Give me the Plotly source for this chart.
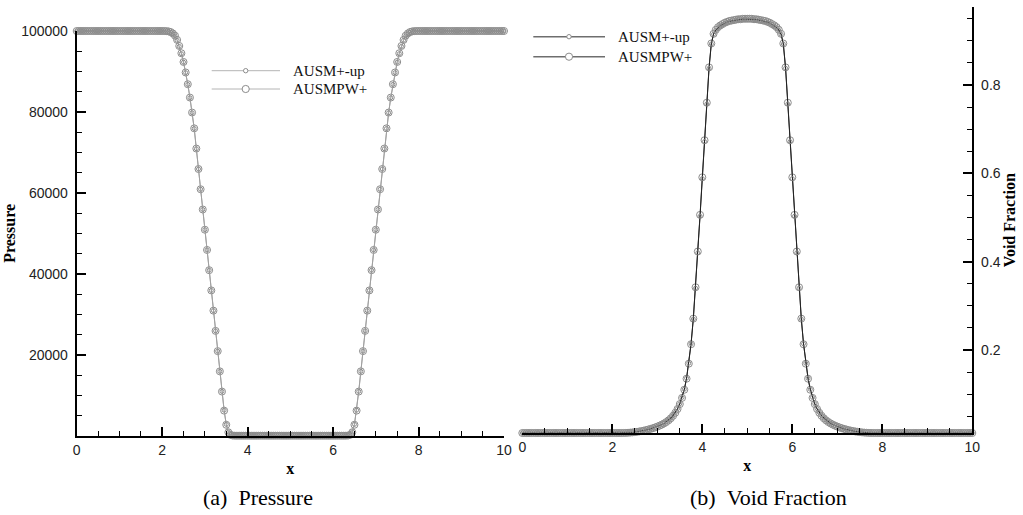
import plotly.graph_objects as go

W, H = 1023, 515

# Cell-centre coordinate along the tube (dx = 0.05)
x = [
    0.0, 0.05, 0.1, 0.15, 0.2, 0.25, 0.3, 0.35, 0.4, 0.45,
    0.5, 0.55, 0.6, 0.65, 0.7, 0.75, 0.8, 0.85, 0.9, 0.95,
    1.0, 1.05, 1.1, 1.15, 1.2, 1.25, 1.3, 1.35, 1.4, 1.45,
    1.5, 1.55, 1.6, 1.65, 1.7, 1.75, 1.8, 1.85, 1.9, 1.95,
    2.0, 2.05, 2.1, 2.15, 2.2, 2.25, 2.3, 2.35, 2.4, 2.45,
    2.5, 2.55, 2.6, 2.65, 2.7, 2.75, 2.8, 2.85, 2.9, 2.95,
    3.0, 3.05, 3.1, 3.15, 3.2, 3.25, 3.3, 3.35, 3.4, 3.45,
    3.5, 3.55, 3.6, 3.65, 3.7, 3.75, 3.8, 3.85, 3.9, 3.95,
    4.0, 4.05, 4.1, 4.15, 4.2, 4.25, 4.3, 4.35, 4.4, 4.45,
    4.5, 4.55, 4.6, 4.65, 4.7, 4.75, 4.8, 4.85, 4.9, 4.95,
    5.0, 5.05, 5.1, 5.15, 5.2, 5.25, 5.3, 5.35, 5.4, 5.45,
    5.5, 5.55, 5.6, 5.65, 5.7, 5.75, 5.8, 5.85, 5.9, 5.95,
    6.0, 6.05, 6.1, 6.15, 6.2, 6.25, 6.3, 6.35, 6.4, 6.45,
    6.5, 6.55, 6.6, 6.65, 6.7, 6.75, 6.8, 6.85, 6.9, 6.95,
    7.0, 7.05, 7.1, 7.15, 7.2, 7.25, 7.3, 7.35, 7.4, 7.45,
    7.5, 7.55, 7.6, 7.65, 7.7, 7.75, 7.8, 7.85, 7.9, 7.95,
    8.0, 8.05, 8.1, 8.15, 8.2, 8.25, 8.3, 8.35, 8.4, 8.45,
    8.5, 8.55, 8.6, 8.65, 8.7, 8.75, 8.8, 8.85, 8.9, 8.95,
    9.0, 9.05, 9.1, 9.15, 9.2, 9.25, 9.3, 9.35, 9.4, 9.45,
    9.5, 9.55, 9.6, 9.65, 9.7, 9.75, 9.8, 9.85, 9.9, 9.95,
    10.0,
]

# Pressure [Pa], AUSM+-up scheme
pressure_ausm_up = [
    100000, 100000, 100000, 100000, 100000, 100000, 100000, 100000, 100000, 100000,
    100000, 100000, 100000, 100000, 100000, 100000, 100000, 100000, 100000, 100000,
    100000, 100000, 100000, 100000, 100000, 100000, 100000, 100000, 100000, 100000,
    100000, 100000, 100000, 100000, 100000, 100000, 100000, 100000, 100000, 100000,
    100000, 99990, 99960, 99880, 99700, 99350, 98800, 97700, 96200, 94400,
    92300, 89700, 86800, 83500, 79800, 75900, 70900, 65900, 60900, 55900,
    50900, 45900, 40900, 35900, 30900, 25900, 20900, 15900, 10950, 6300,
    2800, 950, 260, 60, 10, 0, 0, 0, 0, 0,
    0, 0, 0, 0, 0, 0, 0, 0, 0, 0,
    0, 0, 0, 0, 0, 0, 0, 0, 0, 0,
    0, 0, 0, 0, 0, 0, 0, 0, 0, 0,
    0, 0, 0, 0, 0, 0, 0, 0, 0, 0,
    0, 0, 0, 0, 0, 0, 10, 60, 260, 950,
    2800, 6300, 10950, 15900, 20900, 25900, 30900, 35900, 40900, 45900,
    50900, 55900, 60900, 65900, 70900, 75900, 79800, 83500, 86800, 89700,
    92300, 94400, 96200, 97700, 98800, 99350, 99700, 99880, 99960, 99990,
    100000, 100000, 100000, 100000, 100000, 100000, 100000, 100000, 100000, 100000,
    100000, 100000, 100000, 100000, 100000, 100000, 100000, 100000, 100000, 100000,
    100000, 100000, 100000, 100000, 100000, 100000, 100000, 100000, 100000, 100000,
    100000, 100000, 100000, 100000, 100000, 100000, 100000, 100000, 100000, 100000,
    100000,
]

# Pressure [Pa], AUSMPW+ scheme
pressure_ausmpw = [
    100000, 100000, 100000, 100000, 100000, 100000, 100000, 100000, 100000, 100000,
    100000, 100000, 100000, 100000, 100000, 100000, 100000, 100000, 100000, 100000,
    100000, 100000, 100000, 100000, 100000, 100000, 100000, 100000, 100000, 100000,
    100000, 100000, 100000, 100000, 100000, 100000, 100000, 100000, 100000, 100000,
    100000, 99995, 99970, 99900, 99740, 99400, 98850, 97800, 96300, 94500,
    92350, 89750, 86850, 83550, 79850, 75950, 70950, 65900, 60900, 55900,
    50900, 45900, 40900, 35900, 30900, 25900, 20900, 15900, 10900, 6200,
    2700, 850, 200, 40, 5, 0, 0, 0, 0, 0,
    0, 0, 0, 0, 0, 0, 0, 0, 0, 0,
    0, 0, 0, 0, 0, 0, 0, 0, 0, 0,
    0, 0, 0, 0, 0, 0, 0, 0, 0, 0,
    0, 0, 0, 0, 0, 0, 0, 0, 0, 0,
    0, 0, 0, 0, 0, 0, 5, 40, 200, 850,
    2700, 6200, 10900, 15900, 20900, 25900, 30900, 35900, 40900, 45900,
    50900, 55900, 60900, 65900, 70950, 75950, 79850, 83550, 86850, 89750,
    92350, 94500, 96300, 97800, 98850, 99400, 99740, 99900, 99970, 99995,
    100000, 100000, 100000, 100000, 100000, 100000, 100000, 100000, 100000, 100000,
    100000, 100000, 100000, 100000, 100000, 100000, 100000, 100000, 100000, 100000,
    100000, 100000, 100000, 100000, 100000, 100000, 100000, 100000, 100000, 100000,
    100000, 100000, 100000, 100000, 100000, 100000, 100000, 100000, 100000, 100000,
    100000,
]

# Void fraction, AUSM+-up scheme
void_ausm_up = [
    0.012, 0.012, 0.012, 0.012, 0.012, 0.012, 0.012, 0.012, 0.012, 0.012,
    0.012, 0.012, 0.012, 0.012, 0.012, 0.012, 0.012, 0.012, 0.012, 0.012,
    0.012, 0.012, 0.012, 0.012, 0.012, 0.012, 0.012, 0.012, 0.012, 0.012,
    0.012, 0.012, 0.012, 0.012, 0.012, 0.012, 0.012, 0.012, 0.012, 0.012,
    0.012, 0.012, 0.012, 0.012, 0.012, 0.0121, 0.0123, 0.0126, 0.0130, 0.0135,
    0.0141, 0.0148, 0.0156, 0.0165, 0.0175, 0.0187, 0.0200, 0.0214, 0.0230, 0.0247,
    0.0266, 0.0287, 0.0311, 0.0339, 0.0372, 0.0411, 0.0458, 0.0515, 0.0585, 0.0672,
    0.0782, 0.0925, 0.111, 0.136, 0.170, 0.214, 0.270, 0.340, 0.420, 0.503,
    0.588, 0.672, 0.757, 0.838, 0.893, 0.915, 0.924, 0.930, 0.934, 0.937,
    0.940, 0.942, 0.944, 0.945, 0.946, 0.947, 0.948, 0.948, 0.949, 0.949,
    0.949, 0.949, 0.949, 0.948, 0.948, 0.947, 0.946, 0.945, 0.944, 0.942,
    0.940, 0.937, 0.934, 0.930, 0.924, 0.915, 0.893, 0.838, 0.757, 0.672,
    0.588, 0.503, 0.420, 0.340, 0.270, 0.214, 0.170, 0.136, 0.111, 0.0925,
    0.0782, 0.0672, 0.0585, 0.0515, 0.0458, 0.0411, 0.0372, 0.0339, 0.0311, 0.0287,
    0.0266, 0.0247, 0.0230, 0.0214, 0.0200, 0.0187, 0.0175, 0.0165, 0.0156, 0.0148,
    0.0141, 0.0135, 0.0130, 0.0126, 0.0123, 0.0121, 0.012, 0.012, 0.012, 0.012,
    0.012, 0.012, 0.012, 0.012, 0.012, 0.012, 0.012, 0.012, 0.012, 0.012,
    0.012, 0.012, 0.012, 0.012, 0.012, 0.012, 0.012, 0.012, 0.012, 0.012,
    0.012, 0.012, 0.012, 0.012, 0.012, 0.012, 0.012, 0.012, 0.012, 0.012,
    0.012, 0.012, 0.012, 0.012, 0.012, 0.012, 0.012, 0.012, 0.012, 0.012,
    0.012,
]

# Void fraction, AUSMPW+ scheme
void_ausmpw = [
    0.012, 0.012, 0.012, 0.012, 0.012, 0.012, 0.012, 0.012, 0.012, 0.012,
    0.012, 0.012, 0.012, 0.012, 0.012, 0.012, 0.012, 0.012, 0.012, 0.012,
    0.012, 0.012, 0.012, 0.012, 0.012, 0.012, 0.012, 0.012, 0.012, 0.012,
    0.012, 0.012, 0.012, 0.012, 0.012, 0.012, 0.012, 0.012, 0.012, 0.012,
    0.012, 0.012, 0.012, 0.012, 0.012, 0.0121, 0.0122, 0.0125, 0.0129, 0.0134,
    0.0140, 0.0147, 0.0155, 0.0164, 0.0174, 0.0186, 0.0199, 0.0213, 0.0229, 0.0246,
    0.0265, 0.0286, 0.0310, 0.0337, 0.0369, 0.0407, 0.0453, 0.0509, 0.0578, 0.0664,
    0.0775, 0.0915, 0.110, 0.135, 0.169, 0.213, 0.271, 0.342, 0.423, 0.506,
    0.591, 0.675, 0.760, 0.840, 0.894, 0.916, 0.925, 0.931, 0.935, 0.938,
    0.941, 0.943, 0.945, 0.946, 0.947, 0.948, 0.949, 0.949, 0.950, 0.950,
    0.950, 0.950, 0.950, 0.949, 0.949, 0.948, 0.947, 0.946, 0.945, 0.943,
    0.941, 0.938, 0.935, 0.931, 0.925, 0.916, 0.894, 0.840, 0.760, 0.675,
    0.591, 0.506, 0.423, 0.342, 0.271, 0.213, 0.169, 0.135, 0.110, 0.0915,
    0.0775, 0.0664, 0.0578, 0.0509, 0.0453, 0.0407, 0.0369, 0.0337, 0.0310, 0.0286,
    0.0265, 0.0246, 0.0229, 0.0213, 0.0199, 0.0186, 0.0174, 0.0164, 0.0155, 0.0147,
    0.0140, 0.0134, 0.0129, 0.0125, 0.0122, 0.0121, 0.012, 0.012, 0.012, 0.012,
    0.012, 0.012, 0.012, 0.012, 0.012, 0.012, 0.012, 0.012, 0.012, 0.012,
    0.012, 0.012, 0.012, 0.012, 0.012, 0.012, 0.012, 0.012, 0.012, 0.012,
    0.012, 0.012, 0.012, 0.012, 0.012, 0.012, 0.012, 0.012, 0.012, 0.012,
    0.012, 0.012, 0.012, 0.012, 0.012, 0.012, 0.012, 0.012, 0.012, 0.012,
    0.012,
]

series_names = ["AUSM+-up", "AUSMPW+"]
x_ticks = [0, 2, 4, 6, 8, 10]
pressure_ticks = [20000, 40000, 60000, 80000, 100000]
void_ticks = [0.2, 0.4, 0.6, 0.8]
captions = ["(a)\u00a0\u00a0Pressure", "(b)\u00a0\u00a0Void Fraction"]

SANS = "Liberation Sans, Arial, sans-serif"
SERIF = "Liberation Serif, Times New Roman, serif"


def px(xp):
    return xp / W


def py(yp):
    return (H - yp) / H


fig = go.Figure()

# ---- left panel: pressure ----
fig.add_trace(go.Scatter(
    x=x, y=pressure_ausmpw, name=series_names[1], mode="lines+markers",
    line=dict(color="#a8a8a8", width=1),
    marker=dict(symbol="circle-open", size=7, color="#8c8c8c", line=dict(width=1)),
    xaxis="x", yaxis="y", cliponaxis=False, showlegend=False,
))
fig.add_trace(go.Scatter(
    x=x, y=pressure_ausm_up, name=series_names[0], mode="lines+markers",
    line=dict(color="#a0a0a0", width=1),
    marker=dict(symbol="circle-open", size=4, color="#8c8c8c", line=dict(width=1)),
    xaxis="x", yaxis="y", cliponaxis=False, showlegend=False,
))

# ---- right panel: void fraction ----
fig.add_trace(go.Scatter(
    x=x, y=void_ausmpw, name=series_names[1], mode="lines+markers",
    line=dict(color="#3a3a3a", width=1),
    marker=dict(symbol="circle-open", size=7, color="#8c8c8c", line=dict(width=1)),
    xaxis="x2", yaxis="y2", cliponaxis=False, showlegend=False,
))
fig.add_trace(go.Scatter(
    x=x, y=void_ausm_up, name=series_names[0], mode="lines+markers",
    line=dict(color="#222222", width=1),
    marker=dict(symbol="circle-open", size=4, color="#8c8c8c", line=dict(width=1)),
    xaxis="x2", yaxis="y2", cliponaxis=False, showlegend=False,
))

axis_common = dict(
    showline=True, linecolor="black", linewidth=2, mirror=False,
    ticks="inside", ticklen=9, tickwidth=2, tickcolor="black",
    showgrid=False, zeroline=False, automargin=False,
    tickfont=dict(family=SANS, size=14, color="#222222"),
)
title_font = dict(family=SERIF, size=16, color="black", weight="bold")
minor_common = dict(ticks="inside", ticklen=5, tickwidth=1, tickcolor="black", showgrid=False)

fig.update_layout(
    width=W, height=H, autosize=False,
    margin=dict(l=0, r=0, t=0, b=0, autoexpand=False),
    paper_bgcolor="white", plot_bgcolor="white",
    xaxis=dict(
        **axis_common, domain=[px(76.7), px(504)], range=[0, 10], anchor="y",
        tickmode="array", tickvals=x_ticks, ticktext=[str(v) for v in x_ticks],
        minor=dict(dtick=0.5, tick0=0, **minor_common),
        title=dict(text="x", font=title_font, standoff=6),
    ),
    yaxis=dict(
        **axis_common, domain=[py(435.7), py(31)], range=[0, 100000], anchor="x",
        tickmode="array", tickvals=pressure_ticks, ticktext=[str(v) for v in pressure_ticks],
        minor=dict(dtick=5000, tick0=0, **minor_common),
        ticklabelstandoff=4,
        title=dict(text="Pressure", font=title_font, standoff=2),
    ),
    xaxis2=dict(
        **axis_common, domain=[px(522.3), px(972.3)], range=[0, 10], anchor="y2",
        tickmode="array", tickvals=x_ticks, ticktext=[str(v) for v in x_ticks],
        minor=dict(dtick=0.5, tick0=0, **minor_common),
        title=dict(text="x", font=title_font, standoff=6),
    ),
    yaxis2=dict(
        **axis_common, domain=[py(433), py(7.3)], range=[0.012, 0.976], anchor="x2",
        side="right",
        tickmode="array", tickvals=void_ticks, ticktext=[str(v) for v in void_ticks],
        minor=dict(dtick=0.05, tick0=0, **minor_common),
        ticklabelstandoff=4,
        title=dict(text="Void Fraction", font=title_font, standoff=3),
    ),
)

# ---- legend samples drawn as line + circle, with text ----
def legend_block(x0, x1, xm, rows, line_color, line_width):
    shapes, annos = [], []
    for (yy, name, r) in rows:
        shapes.append(dict(type="line", xref="paper", yref="paper",
                           x0=px(x0), x1=px(x1), y0=py(yy), y1=py(yy),
                           line=dict(color=line_color, width=line_width)))
        shapes.append(dict(type="circle", xref="paper", yref="paper",
                           x0=px(xm - r), x1=px(xm + r), y0=py(yy + r), y1=py(yy - r),
                           fillcolor="white", line=dict(color="#8c8c8c", width=1)))
        annos.append(dict(xref="paper", yref="paper", x=px(x1 + 11), y=py(yy),
                          xanchor="left", yanchor="middle", showarrow=False,
                          text=name, font=dict(family=SERIF, size=15, color="#111111")))
    return shapes, annos


s1, a1 = legend_block(211.7, 280, 245.7,
                      [(70.7, series_names[0], 2.2), (89, series_names[1], 3.6)],
                      "#b4b4b4", 1)
s2, a2 = legend_block(533.3, 605, 569,
                      [(36.7, series_names[0], 2.2), (56.7, series_names[1], 3.6)],
                      "#6e6e6e", 1.5)

caption_annos = [
    dict(xref="paper", yref="paper", x=px(258), y=py(497), xanchor="center", yanchor="middle",
         showarrow=False, text=captions[0], font=dict(family=SERIF, size=22, color="black")),
    dict(xref="paper", yref="paper", x=px(768), y=py(497), xanchor="center", yanchor="middle",
         showarrow=False, text=captions[1], font=dict(family=SERIF, size=22, color="black")),
]

fig.update_layout(shapes=s1 + s2, annotations=a1 + a2 + caption_annos)

fig.write_html("out.html")
